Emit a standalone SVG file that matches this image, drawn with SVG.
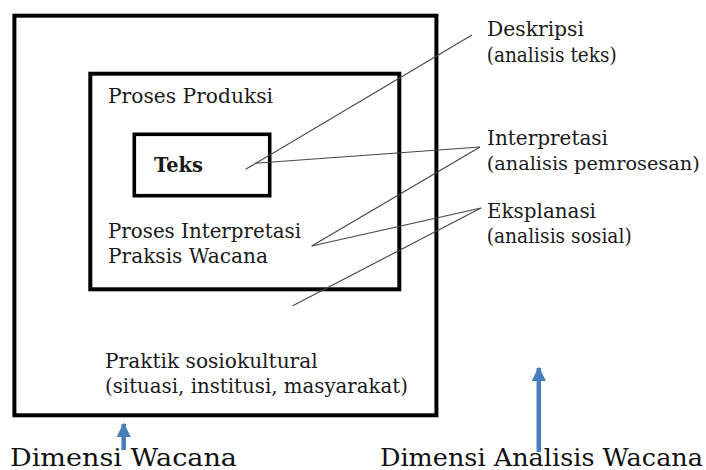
<svg xmlns="http://www.w3.org/2000/svg" width="706" height="470" viewBox="0 0 706 470">
<style>
.box{fill:none;stroke:#000;stroke-width:4}
.t{font-family:"DejaVu Serif","Liberation Serif",serif;font-size:21px;fill:#1a1a1a}
.b{font-family:"DejaVu Serif","Liberation Serif",serif;font-size:25px;fill:#111}
.ln{stroke:#444;stroke-width:1.1;fill:none}
.ar{stroke:#4a7ebb;stroke-width:4.5;fill:none}
</style>
<defs>
<marker id="ah" viewBox="0 0 10 10" refX="9" refY="5" markerWidth="3.2" markerHeight="3.2" orient="auto" markerUnits="strokeWidth">
<path d="M0,0 L10,5 L0,10 z" fill="#4a7ebb"/>
</marker>
</defs>
<rect width="706" height="470" fill="#fff"/>
<g id="praktik-sosiokultural">
<rect class="box" x="14.4" y="15.7" width="422" height="399.6"/>
<text class="t" x="105" y="368.3" textLength="212.7" lengthAdjust="spacingAndGlyphs">Praktik sosiokultural</text>
<text class="t" x="105" y="393.3" textLength="303" lengthAdjust="spacingAndGlyphs">(situasi, institusi, masyarakat)</text>
</g>
<g id="praksis-wacana">
<rect class="box" x="90.3" y="73.7" width="309" height="215.6"/>
<text class="t" x="108" y="102.7" textLength="165" lengthAdjust="spacingAndGlyphs">Proses Produksi</text>
<text class="t" x="108" y="238.3" textLength="193" lengthAdjust="spacingAndGlyphs">Proses Interpretasi</text>
<text class="t" x="108" y="263.3" textLength="160" lengthAdjust="spacingAndGlyphs">Praksis Wacana</text>
</g>
<g id="teks">
<rect class="box" x="134.3" y="134.3" width="135.4" height="61.4" style="stroke-width:3.6"/>
<text class="t" x="154" y="171.7" font-weight="bold" textLength="49" lengthAdjust="spacingAndGlyphs">Teks</text>
</g>
<g id="deskripsi">
<text class="t" x="487" y="36" textLength="97" lengthAdjust="spacingAndGlyphs">Deskripsi</text>
<text class="t" x="486.7" y="61.7" textLength="130" lengthAdjust="spacingAndGlyphs">(analisis teks)</text>
</g>
<g id="interpretasi">
<text class="t" x="487" y="145" textLength="121" lengthAdjust="spacingAndGlyphs">Interpretasi</text>
<text class="t" x="486.7" y="170" style="font-size:19px" textLength="213" lengthAdjust="spacingAndGlyphs">(analisis pemrosesan)</text>
</g>
<g id="eksplanasi">
<text class="t" x="487" y="218.3" textLength="109" lengthAdjust="spacingAndGlyphs">Eksplanasi</text>
<text class="t" x="486.7" y="243.3" textLength="145" lengthAdjust="spacingAndGlyphs">(analisis sosial)</text>
</g>
<g id="dimensi-wacana">
<text class="b" x="10" y="465.5" textLength="227" lengthAdjust="spacingAndGlyphs">Dimensi Wacana</text>
</g>
<g id="dimensi-analisis-wacana">
<text class="b" x="380" y="465.5" textLength="323" lengthAdjust="spacingAndGlyphs">Dimensi Analisis Wacana</text>
</g>
<g id="connectors">
<line class="ln" x1="472" y1="35" x2="245.7" y2="169.3"/>
<line class="ln" x1="480" y1="147" x2="255" y2="163.3"/>
<line class="ln" x1="480" y1="147" x2="311.7" y2="246"/>
<line class="ln" x1="481" y1="208" x2="311.7" y2="246"/>
<line class="ln" x1="481" y1="208" x2="292.7" y2="305.7"/>
<line class="ar" x1="123.7" y1="450" x2="123.7" y2="424" marker-end="url(#ah)"/>
<line class="ar" x1="538.8" y1="452" x2="538.8" y2="368" marker-end="url(#ah)"/>
</g>
</svg>
